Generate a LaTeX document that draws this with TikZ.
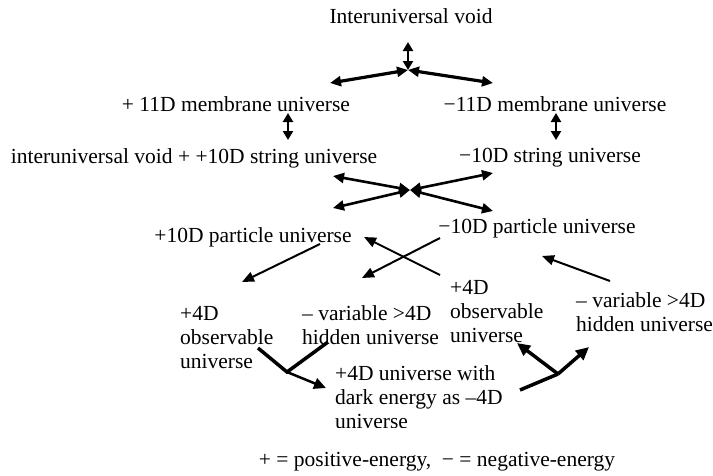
\documentclass[tikz,border=0pt]{standalone}
\usepackage{fontspec}
\setmainfont{Liberation Serif}
\usetikzlibrary{arrows.meta}
\begin{document}
\begin{tikzpicture}[x=1pt,y=-1pt,
  lbl/.style={inner sep=0pt, font=\fontsize{21.5}{24}\selectfont},
  blk/.style={lbl, align=left, anchor=north west},
  bigdbl/.style={line width=3.2pt, {Triangle[length=11pt,width=10pt]}-{Triangle[length=11pt,width=10pt]}},
  smalldbl/.style={line width=2.5pt, {Triangle[length=9pt,width=10pt]}-{Triangle[length=9pt,width=10pt]}},
  xdbl/.style={line width=2.6pt, {Triangle[length=11pt,width=10pt]}-{Triangle[length=11pt,width=10pt]}},
  thinarr/.style={line width=2pt, -{Triangle[length=12pt,width=10pt]}},
  heavy/.style={line width=3.5pt},
  heavyarr/.style={line width=3.5pt, -{Triangle[length=13pt,width=12pt]}},
  medarr/.style={line width=2.5pt, -{Triangle[length=12pt,width=11pt]}}
]
\useasboundingbox (0,0) rectangle (713,475);

% texts
\node[lbl] (void) at (411,16) {Interuniversal void};
\node[lbl] (p11) at (236,104) {+ 11D membrane universe};
\node[lbl] (m11) at (555,104) {−11D membrane universe};
\node[lbl] (p10) at (194,158) {interuniversal void + +10D string universe};
\node[lbl] (m10) at (550,158) {−10D string universe};
\node[lbl] (p10p) at (253,237) {+10D particle universe};
\node[lbl] (m10p) at (537,228) {−10D particle universe};
\node[blk] (p4l) at (180,306) {+4D\\observable\\universe};
\node[blk] (hidl) at (302,305) {– variable >4D\\hidden universe};
\node[blk] (p4r) at (450,280) {+4D\\observable\\universe};
\node[blk] (hidr) at (576,292) {– variable >4D\\hidden universe};
\begin{scope}
  \clip (300,340) rectangle (560,427);
  \node[blk] (dark) at (335,365) {+4D universe with\\dark energy as –4D\\universe};
\end{scope}
\node[lbl] (legend) at (437,462) {+ = positive-energy,\ \ − = negative-energy};

% coordinates
\coordinate (j1) at (408,70);
\coordinate (j1u) at (408,42);
\coordinate (j1l) at (330,83);
\coordinate (j1r) at (493,83);
\coordinate (a1t) at (288,113);
\coordinate (a1b) at (288,140);
\coordinate (a2t) at (556,113);
\coordinate (a2b) at (556,140);
\coordinate (jx) at (410,190);
\coordinate (xul) at (333,176);
\coordinate (xur) at (493,173);
\coordinate (xll) at (333,208);
\coordinate (xlr) at (493,211);
\coordinate (t1s) at (320,244);
\coordinate (t1e) at (242,282);
\coordinate (t2s) at (440,238);
\coordinate (t2e) at (362,278);
\coordinate (t3s) at (440,275);
\coordinate (t3e) at (364,237);
\coordinate (t4s) at (610,281);
\coordinate (t4e) at (542,256);
\coordinate (bl1) at (258,348);
\coordinate (bj1) at (287,372);
\coordinate (bl2) at (328,342);
\coordinate (bl3) at (326,388);
\coordinate (br0) at (520,390);
\coordinate (bj2) at (558,374);
\coordinate (br1) at (517,343);
\coordinate (br2) at (589,347);

% connectors
\draw[smalldbl] (j1) -- (j1u);
\draw[bigdbl] (j1) -- (j1l);
\draw[bigdbl] (j1) -- (j1r);
\draw[smalldbl] (a1t) -- (a1b);
\draw[smalldbl] (a2t) -- (a2b);
\draw[xdbl] (jx) -- (xul);
\draw[xdbl] (jx) -- (xur);
\draw[xdbl] (jx) -- (xll);
\draw[xdbl] (jx) -- (xlr);
\draw[thinarr] (t1s) -- (t1e);
\draw[thinarr] (t2s) -- (t2e);
\draw[thinarr] (t3s) -- (t3e);
\draw[thinarr] (t4s) -- (t4e);
\draw[heavy] (bl1) -- (bj1) -- (bl2);
\draw[medarr] (bj1) -- (bl3);
\draw[heavy] (br0) -- (bj2);
\draw[heavyarr] (bj2) -- (br1);
\draw[heavyarr] (bj2) -- (br2);
\end{tikzpicture}
\end{document}
